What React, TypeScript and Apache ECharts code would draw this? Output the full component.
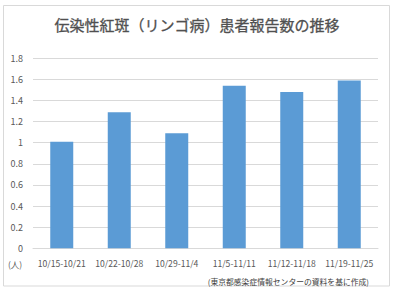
import React, { useEffect, useRef } from "react";
import * as echarts from "echarts";

const categories = ["10/15-10/21", "10/22-10/28", "10/29-11/4", "11/5-11/11", "11/12-11/18", "11/19-11/25"];
const patientsPerSite = [1.01, 1.29, 1.09, 1.54, 1.48, 1.59];
const yMin = 0;
const yMax = 1.8;
const yStep = 0.2;
const titleText = "伝染性紅斑（リンゴ病）患者報告数の推移";
const unitText = "(人)";
const sourceText = "(東京都感染症情報センターの資料を基に作成)";

export default function App() {
  const ref = useRef<HTMLDivElement>(null);
  useEffect(() => {
    if (!ref.current) return;
    const chart = echarts.init(ref.current, undefined, { renderer: "svg" });
    const font = "'Noto Sans CJK JP', 'Liberation Sans', sans-serif";
    chart.setOption({
      animation: false,
      backgroundColor: "#ffffff",
      grid: { left: 33, right: 18, top: 58.3, bottom: 43.7, containLabel: false },
      xAxis: {
        type: "category",
        data: categories,
        axisLine: { lineStyle: { color: "#D9D9D9" } },
        axisTick: { show: false },
        axisLabel: { color: "#595959", fontSize: 8.6, fontFamily: font, margin: 10, interval: 0 },
      },
      yAxis: {
        type: "value",
        min: yMin,
        max: yMax,
        interval: yStep,
        axisLine: { show: false },
        axisTick: { show: false },
        splitLine: { lineStyle: { color: "#D9D9D9" } },
        axisLabel: {
          color: "#595959",
          fontSize: 9,
          fontFamily: font,
          margin: 10,
          formatter: (v: number) => String(+v.toFixed(1)),
        },
      },
      series: [
        {
          type: "bar",
          data: patientsPerSite,
          barWidth: "40%",
          itemStyle: { color: "#5B9BD5" },
        },
      ],
      graphic: [
        {
          type: "rect",
          z: -10,
          shape: { x: 3.5, y: 5.5, width: 386, height: 280.5 },
          style: { fill: "none", stroke: "#D9D9D9", lineWidth: 1 },
        },
        {
          type: "text",
          x: 197,
          y: 24,
          style: {
            text: titleText,
            fill: "#505050",
            fontSize: 15,
            fontFamily: font,
            textAlign: "center",
            textVerticalAlign: "middle",
            stroke: "#505050",
            lineWidth: 0.3,
          },
        },
        {
          type: "text",
          x: 15,
          y: 263.5,
          style: {
            text: unitText,
            fill: "#595959",
            fontSize: 8.5,
            fontFamily: font,
            textAlign: "center",
            textVerticalAlign: "middle",
          },
        },
        {
          type: "text",
          x: 369,
          y: 281,
          style: {
            text: sourceText,
            fill: "#404040",
            fontSize: 7.8,
            fontFamily: font,
            textAlign: "right",
            textVerticalAlign: "middle",
          },
        },
      ],
    });
    return () => chart.dispose();
  }, []);
  return (
    <div
      ref={ref}
      style={{ position: "fixed", left: 0, top: 0, width: 396, height: 292, background: "#fff" }}
    />
  );
}
